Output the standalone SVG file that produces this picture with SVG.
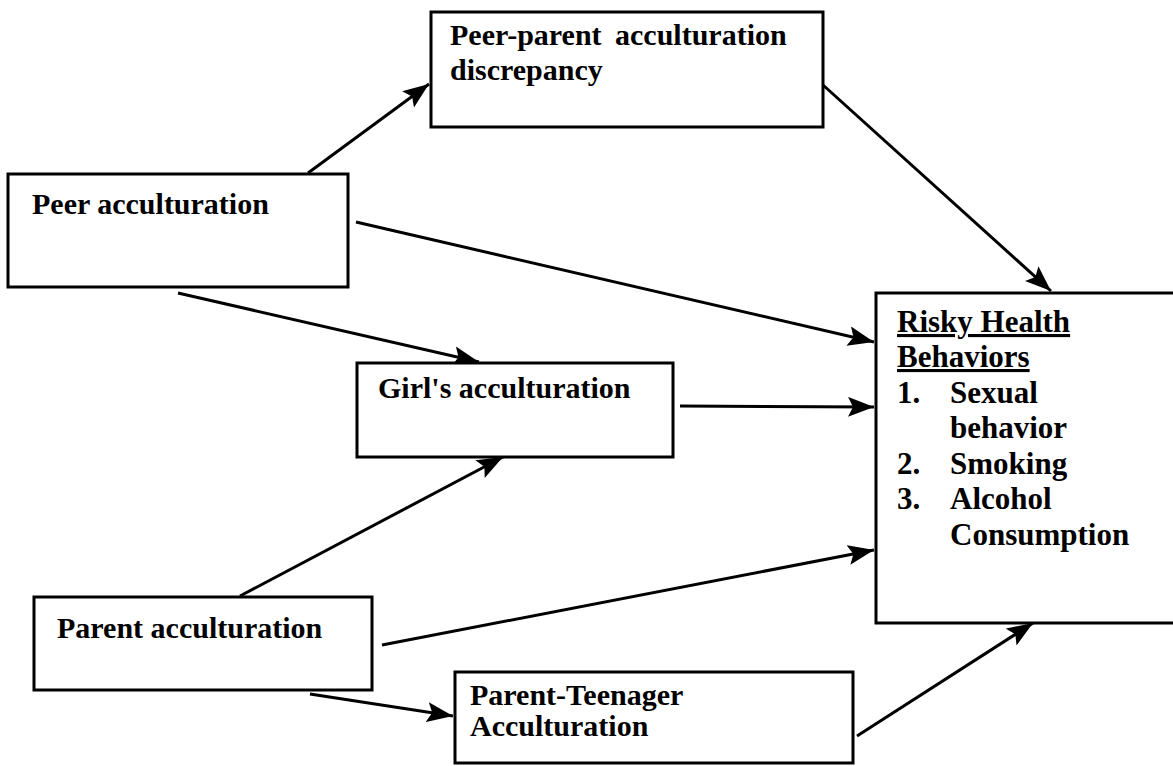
<svg xmlns="http://www.w3.org/2000/svg" width="1173" height="766" viewBox="0 0 1173 766">
<style>
.box{fill:#fff;stroke:#000;stroke-width:3}
.t{font-family:"Liberation Serif","Times New Roman",serif;font-weight:bold;font-size:30px;fill:#000}
.r{font-size:31px}
.u{text-decoration:underline}
.c{stroke:#000;stroke-width:3;fill:none;marker-end:url(#ah)}
</style>
<defs>
<marker id="ah" markerUnits="userSpaceOnUse" markerWidth="28" markerHeight="22" refX="26" refY="10" orient="auto">
<path d="M0,0 L26,10 L0,20 L5,10 Z" fill="#000"/>
</marker>
</defs>
<g id="connectors">
<line class="c" x1="308" y1="173" x2="429" y2="84"/>
<line class="c" x1="823" y1="85" x2="1051" y2="291"/>
<line class="c" x1="356" y1="222" x2="874" y2="342"/>
<line class="c" x1="178" y1="293" x2="479" y2="362"/>
<line class="c" x1="680" y1="406" x2="874" y2="407"/>
<line class="c" x1="240" y1="596" x2="503" y2="457"/>
<line class="c" x1="382" y1="645" x2="874" y2="550"/>
<line class="c" x1="310" y1="694" x2="453" y2="716"/>
<line class="c" x1="857" y1="736" x2="1033" y2="623"/>
</g>
<g id="peer-parent">
<rect class="box" x="431" y="12" width="392" height="115"/>
<text class="t" x="450" y="45">Peer-parent<tspan x="615">acculturation</tspan></text>
<text class="t" x="450" y="80">discrepancy</text>
</g>
<g id="peer">
<rect class="box" x="8" y="174" width="340" height="113"/>
<text class="t" x="32" y="214">Peer acculturation</text>
</g>
<g id="girl">
<rect class="box" x="357" y="363" width="316" height="94"/>
<text class="t" x="378" y="398">Girl's acculturation</text>
</g>
<g id="parent">
<rect class="box" x="34" y="597" width="338" height="93"/>
<text class="t" x="57" y="638">Parent acculturation</text>
</g>
<g id="parent-teen">
<rect class="box" x="455" y="672" width="398" height="91"/>
<text class="t" x="470" y="705">Parent-Teenager</text>
<text class="t" x="470" y="736">Acculturation</text>
</g>
<g id="risky">
<rect class="box" x="876" y="293" width="300" height="330"/>
<text class="t r u" x="897" y="332">Risky Health</text>
<text class="t r u" x="897" y="367">Behaviors</text>
<text class="t r" x="897" y="403">1.<tspan x="950">Sexual</tspan></text>
<text class="t r" x="950" y="438">behavior</text>
<text class="t r" x="897" y="474">2.<tspan x="950">Smoking</tspan></text>
<text class="t r" x="897" y="509">3.<tspan x="950">Alcohol</tspan></text>
<text class="t r" x="950" y="545">Consumption</text>
</g>
</svg>
